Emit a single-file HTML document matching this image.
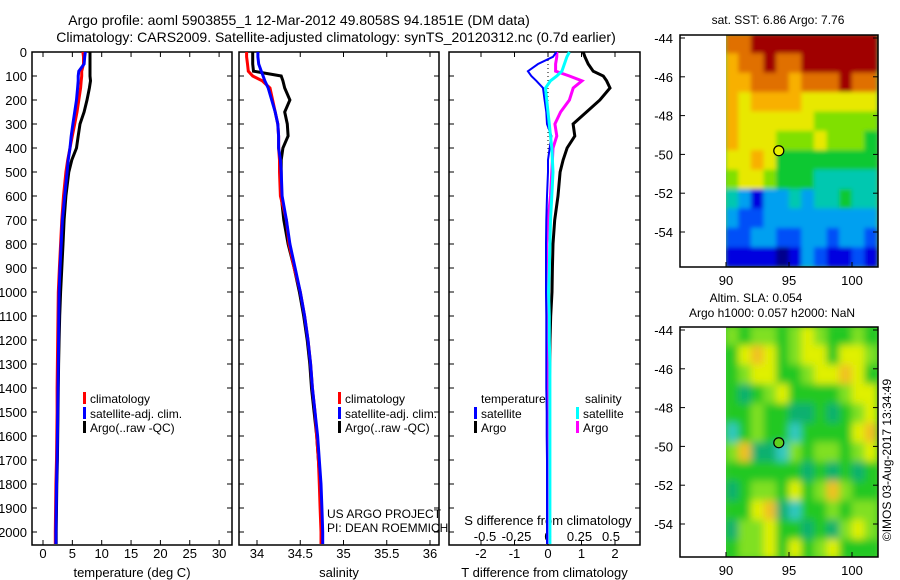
<!DOCTYPE html>
<html><head><meta charset="utf-8"><style>
html,body{margin:0;padding:0;background:#fff;}
svg{display:block;font-family:"Liberation Sans",Arial,sans-serif;}
</style></head><body>
<svg id="c" width="900" height="580" viewBox="0 0 900 580" xmlns="http://www.w3.org/2000/svg">
<defs>
<filter id="blurA" x="-5%" y="-5%" width="110%" height="110%"><feGaussianBlur stdDeviation="2"/></filter>
<filter id="blurB" x="-5%" y="-5%" width="110%" height="110%"><feGaussianBlur stdDeviation="4"/></filter>
</defs>
<text x="299" y="25" font-size="14" text-anchor="middle">Argo profile: aoml 5903855_1 12-Mar-2012 49.8058S 94.1851E (DM data)</text>
<text x="336" y="42" font-size="14" text-anchor="middle">Climatology: CARS2009. Satellite-adjusted climatology: synTS_20120312.nc (0.7d earlier)</text>
<g id="g"></g>
</svg>
<script>
const depths=[0,20,50,80,100,120,150,200,250,300,350,400,450,500,600,700,800,900,1000,1100,1200,1300,1400,1500,1600,1700,1800,1900,2000,2050];
const tempClim=[6.8,6.9,6.9,6.6,6.6,6.5,6.4,6.1,5.8,5.4,5.0,4.6,4.2,3.9,3.5,3.2,3.0,2.8,2.6,2.55,2.5,2.45,2.4,2.4,2.35,2.3,2.2,2.15,2.1,2.1];
const tempSat=[7.2,7.1,7.0,6.1,6.0,6.0,5.9,5.7,5.4,5.1,4.8,4.6,4.3,4.1,3.7,3.3,3.1,2.9,2.75,2.7,2.65,2.6,2.55,2.5,2.45,2.4,2.3,2.25,2.2,2.2];
const tempArgo=[8.0,8.0,8.0,8.0,8.0,8.1,7.9,7.5,7.0,6.3,6.0,5.7,4.9,4.4,3.9,3.6,3.4,3.2,3.0,2.85,2.75,2.65,2.6,2.55,2.5,2.45,2.35,2.3,2.25,2.25];
const salClim=[33.88,33.88,33.89,33.9,33.95,34.06,34.15,34.18,34.21,34.24,34.25,34.25,34.26,34.26,34.27,34.34,34.37,34.43,34.5,34.55,34.59,34.62,34.64,34.67,34.69,34.71,34.72,34.73,34.74,34.74];
const salSat=[34.01,34.01,34.02,34.05,34.07,34.09,34.13,34.17,34.21,34.24,34.25,34.25,34.27,34.28,34.29,34.34,34.38,34.44,34.5,34.55,34.59,34.62,34.64,34.67,34.7,34.72,34.74,34.75,34.76,34.76];
const salArgo=[33.95,33.95,33.95,33.96,34.28,34.3,34.32,34.38,34.32,34.35,34.36,34.3,34.28,34.28,34.28,34.31,34.36,34.43,34.49,34.54,34.58,34.61,34.63,34.66,34.69,34.71,34.73,34.74,34.75,34.75];
const dTSat=[0.25,0.15,-0.3,-0.6,-0.5,-0.35,-0.15,-0.1,-0.05,-0.03,0.1,0.05,0.0,0,-0.03,-0.05,-0.06,-0.06,-0.06,-0.05,-0.05,-0.05,-0.05,-0.04,-0.04,-0.03,-0.03,-0.03,-0.03,-0.03];
const dTArgo=[1.05,1.1,1.2,1.35,1.65,1.75,1.85,1.55,1.15,0.75,0.8,0.57,0.45,0.36,0.3,0.2,0.15,0.13,0.12,0.08,0.06,0.05,0.04,0.04,0.04,0.03,0.03,0.03,0.03,0.03];
const dSSat=[0.17,0.15,0.13,0.11,0.07,0.02,-0.02,-0.01,0.0,0.01,0.02,0.03,0.035,0.04,0.03,0.02,0.015,0.01,0.005,0.01,0.01,0.015,0.015,0.015,0.015,0.015,0.015,0.015,0.015,0.015];
const dSArgo=[0.07,0.07,0.06,0.06,0.17,0.27,0.2,0.17,0.1,0.055,0.07,0.04,0.035,0.03,0.02,0.0,-0.01,-0.01,-0.01,-0.005,0,0,0,0,0,0,0,0,0,0];
const depthTicks=[0,100,200,300,400,500,600,700,800,900,1000,1100,1200,1300,1400,1500,1600,1700,1800,1900,2000];
const tempTicks=[0,5,10,15,20,25,30];
const salTicks=[34,34.5,35,35.5,36];
const dTTicks=[-2,-1,0,1,2];
const dSTicks=[-0.5,-0.25,0,0.25,0.5];
const latTicks=[-44,-46,-48,-50,-52,-54];
const lonTicks=[90,95,100];
const sstPalette=["#00008c","#0000e0","#0050f8","#00a0f0","#00c8b0","#10c830","#80e000","#e8e800","#f8b000","#e07000","#a00000"];
const sstGrid=[
[9,9,10,10,10,10,10,10,10,10,10,10],
[8,9,9,10,9,9,10,10,10,10,10,10],
[8,8,9,9,9,8,9,9,9,10,9,9],
[8,7,8,8,8,8,7,7,7,7,7,7],
[8,7,7,7,7,7,7,6,6,6,6,6],
[8,7,7,7,6,6,6,7,6,6,6,5],
[7,7,8,7,5,5,5,5,5,5,5,5],
[6,7,7,6,5,5,5,4,4,4,4,4],
[4,3,1,3,3,4,3,4,4,5,4,4],
[3,2,2,3,3,3,3,3,3,3,3,3],
[2,2,3,3,2,2,3,3,2,3,3,2],
[1,1,1,1,0,1,3,2,1,1,2,1]];
const slaPalette=["#30c8c0","#10b070","#20c820","#80e020","#e0f000","#f0c020"];
const slaGrid=[
[3,2,3,3,2,3,4,3,2,2,3,2],
[2,4,5,4,2,3,4,4,2,4,4,3],
[2,3,4,4,2,2,3,4,4,5,4,2],
[2,1,2,3,4,2,2,2,2,3,4,4],
[2,2,3,2,2,1,1,2,1,2,3,4],
[0,2,3,2,2,0,2,2,2,2,4,5],
[3,5,1,1,0,3,2,3,3,2,3,4],
[2,2,2,2,2,2,1,2,1,2,1,2],
[1,2,3,3,2,4,2,3,5,3,2,2],
[2,2,4,5,1,0,2,2,3,2,3,3],
[1,3,3,4,2,2,1,2,1,3,4,3],
[2,3,3,4,2,4,2,3,4,2,2,2]];
const argoLon=94.19, argoLat=-49.81;

const NS="http://www.w3.org/2000/svg";
const G=document.getElementById('g');
function mk(tag,at,parent){const e=document.createElementNS(NS,tag);for(const k in at)e.setAttribute(k,at[k]);(parent||G).appendChild(e);return e;}
function txt(x,y,s,size,anchor,parent){const t=mk('text',{x:x,y:y,'font-size':size||12,'text-anchor':anchor||'middle'},parent);t.textContent=s;return t;}
const Y=d=>52+0.24*d;
const TOP=52,BOT=545;

function panel(name,x0,x1,xf,ticks,labels,title,leftLabels){
  const g=mk('g',{});
  
  
  const r=mk('rect',{x:x0,y:TOP,width:x1-x0,height:BOT-TOP,fill:'none',stroke:'#000','stroke-width':1.5},g);
  
  
  depthTicks.forEach(d=>{
    mk('line',{x1:x0,x2:x0+5,y1:Y(d),y2:Y(d),stroke:'#000'},g);
    mk('line',{x1:x1,x2:x1-5,y1:Y(d),y2:Y(d),stroke:'#000'},g);
    if(leftLabels){const t=txt(x0-5,Y(d)+5,String(d),13,'end',g);
      
      }
  });
  ticks.forEach((v,i)=>{
    const x=xf(v);
    mk('line',{x1:x,x2:x,y1:BOT,y2:BOT-5,stroke:'#000'},g);
    mk('line',{x1:x,x2:x,y1:TOP,y2:TOP+5,stroke:'#000'},g);
    if(labels){const t=txt(x,558,labels[i],13,'middle',g);
      
      }
  });
  if(title){const t=txt((x0+x1)/2,577,title,13,'middle',g);
    
    }
  return g;
}
function series(name,vals,xf,color,w,parent){
  const pts=vals.map((v,i)=>xf(v).toFixed(1)+','+Y(depths[i]).toFixed(1)).join(' ');
  const p=mk('polyline',{points:pts,fill:'none',stroke:color,'stroke-width':w||3,'stroke-linejoin':'miter'},parent);
  
  
}
function legendEntry(x,y,color,label,parent){
  const g=mk('g',{},parent);
  
  
  mk('rect',{x:x,y:y-6,width:3,height:12,fill:color},g);
  txt(x+7,y+5,label,12,'start',g);
}
const xT=v=>43+5.87*v;
const p1=panel('temperature-panel',32,232,xT,tempTicks,tempTicks.map(String),'temperature (deg C)',true);
series('temp-argo-line',tempArgo,xT,'#000',3,p1);
series('temp-climatology-line',tempClim,xT,'#f00',3,p1);
series('temp-satellite-line',tempSat,xT,'#00f',3,p1);
legendEntry(83,398,'#f00','climatology',p1);
legendEntry(83,413,'#00f','satellite-adj. clim.',p1);
legendEntry(83,427,'#000','Argo(..raw -QC)',p1);
const xS=v=>257+86.5*(v-34);
const p2=panel('salinity-panel',239,439,xS,salTicks,salTicks.map(String),'salinity',false);
series('sal-argo-line',salArgo,xS,'#000',3,p2);
series('sal-climatology-line',salClim,xS,'#f00',3,p2);
series('sal-satellite-line',salSat,xS,'#00f',3,p2);
legendEntry(338,398,'#f00','climatology',p2);
legendEntry(338,413,'#00f','satellite-adj. clim.',p2);
legendEntry(338,427,'#000','Argo(..raw -QC)',p2);
txt(327,518,'US ARGO PROJECT',12,'start',p2);
txt(327,532,'PI: DEAN ROEMMICH',12,'start',p2);
const xdT=v=>548+33.5*v;
const xdS=v=>548+126*v;
const p3=panel('difference-panel',449,640,xdT,dTTicks,dTTicks.map(String),'T difference from climatology',false);
dSTicks.forEach(v=>{const t=txt(xdS(v),541,String(v),13,'middle',p3);
  
  });
const st=txt(548,525,'S difference from climatology',13,'middle',p3);


const zl=mk('line',{x1:xdT(0),x2:xdT(0),y1:Y(0),y2:Y(450),stroke:'#000','stroke-dasharray':'1,3'},p3);


series('dT-argo-line',dTArgo,xdT,'#000',3,p3);
series('dS-argo-line',dSArgo,xdS,'#f0f',3,p3);
series('dT-satellite-line',dTSat,xdT,'#00f',2,p3);
series('dS-satellite-line',dSSat,xdS,'#0ff',3,p3);
txt(481,403,'temperature',12,'start',p3);
txt(585,403,'salinity',12,'start',p3);
legendEntry(474,413,'#00f','satellite',p3);
legendEntry(474,427,'#000','Argo',p3);
legendEntry(576,413,'#0ff','satellite',p3);
legendEntry(576,427,'#f0f','Argo',p3);

function map(name,top,bottom,grid,pal,dotColor,titles,blur,bg){
  const g=mk('g',{});
  
  
  const L=680,R=878;
  const lx=v=>726+12.6*(v-90);
  const ly=v=>(top+3)+19.4*(-44-v);
  const cp='clip-'+name;
  const defs=mk('defs',{},g);
  const c=mk('clipPath',{id:cp},defs);
  mk('rect',{x:lx(90),y:top,width:R-lx(90),height:bottom-top},c);
  const clipG=mk('g',{'clip-path':'url(#'+cp+')'},g);
  mk('rect',{x:lx(90),y:top,width:R-lx(90),height:bottom-top,fill:bg},clipG);
  const cells=mk('g',{filter:'url(#'+blur+')'},clipG);
  grid.forEach((row,i)=>row.forEach((v,j)=>{
    const r=mk('rect',{x:lx(90+j)-0.3,y:ly(-44+0.2-i)-0.3,width:12.6+0.6,height:19.4+0.6,fill:pal[v]},cells);
    
    
  }));
  const f=mk('rect',{x:L,y:top,width:R-L,height:bottom-top,fill:'none',stroke:'#000','stroke-width':1.5},g);
  
  
  latTicks.forEach(v=>{
    mk('line',{x1:L,x2:L+5,y1:ly(v),y2:ly(v),stroke:'#000'},g);
    mk('line',{x1:R,x2:R-5,y1:ly(v),y2:ly(v),stroke:'#000'},g);
    const t=txt(673,ly(v)+5,String(v),13,'end',g);
    
    
  });
  lonTicks.forEach(v=>{
    mk('line',{x1:lx(v),x2:lx(v),y1:bottom,y2:bottom-5,stroke:'#000'},g);
    const t=txt(lx(v),bottom+18,String(v),13,'middle',g);
    
    
  });
  const d=mk('circle',{cx:lx(argoLon),cy:ly(argoLat),r:5,fill:dotColor,stroke:'#000','stroke-width':1.2},g);
  
  
  titles.forEach((s,i)=>{const t=txt(s[1],s[2],s[0],12,'middle',g);
    
    });
}
map('sst-map',35,267,sstGrid,sstPalette,'#e8f000',[['sat. SST: 6.86 Argo: 7.76',778,24]],'blurA','#60c060');
map('sla-map',327,557,slaGrid,slaPalette,'#60d020',[['Altim. SLA: 0.054',756,302],['Argo h1000: 0.057 h2000: NaN',772,317]],'blurB','#40c830');
const cr=txt(0,0,'©IMOS 03-Aug-2017 13:34:49',12,'middle');
cr.setAttribute('transform','translate(891,460) rotate(-90)');


</script>
</body></html>
